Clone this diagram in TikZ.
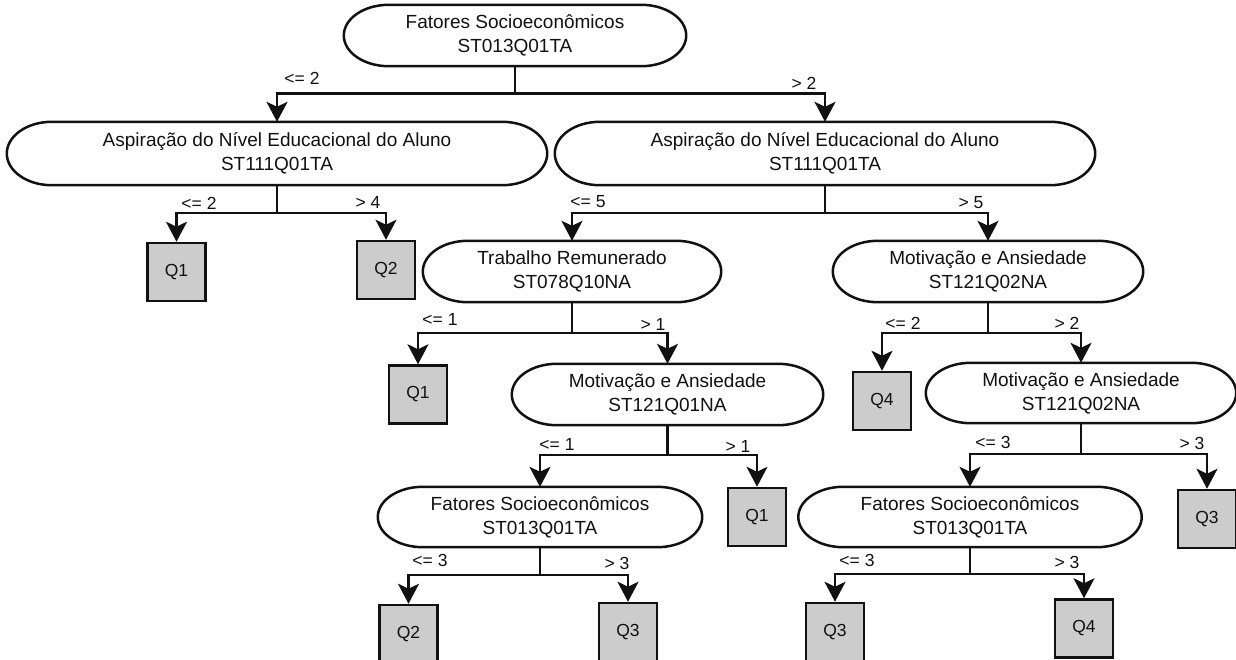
\documentclass[tikz,border=0pt]{standalone}
\usepackage{fontspec}
\setmainfont{Liberation Sans}
\usetikzlibrary{calc,arrows.meta}
\definecolor{leafgray}{HTML}{CCCCCC}
\definecolor{inkblack}{HTML}{111111}

% oval outline around a (borderless) decision node: straight top and
% bottom edges closed by two half-ellipses
\newcommand\ovaloutline[1]{%
  \draw[lw] let \p1=(#1.north west), \p2=(#1.south east),
      \n1={(\y1-\y2)/2} in
    (\x1+45pt,\y1) -- (\x2-45pt,\y1)
    arc[start angle=90, end angle=-90, x radius=45pt, y radius={\n1*1pt}]
    -- (\x1+45pt,\y2)
    arc[start angle=270, end angle=90, x radius=45pt, y radius={\n1*1pt}]
    -- cycle;}

\begin{document}
\begin{tikzpicture}[x=1pt, y=-1pt,
  lw/.style={line width=2.5pt, draw=inkblack},
  oval/.style={inner sep=0pt, align=center, text=inkblack,
    font=\fontsize{19}{24}\selectfont, minimum height=61pt},
  leaf/.style={lw, fill=leafgray, minimum width=58pt, minimum height=58pt,
    inner sep=0pt, text=inkblack, font=\fontsize{17.5}{20}\selectfont},
  conn/.style={lw, -{Stealth[length=20pt, width=21pt, inset=5pt]}},
  cond/.style={inner sep=0pt, text=inkblack, font=\fontsize{17.5}{20}\selectfont}]

\useasboundingbox (0,0) rectangle (1236,659);
\fill[white] (0,0) rectangle (1236,659);
\clip (0,0) rectangle (1236,659);

% decision nodes
\node[oval, minimum width=342pt] (root) at (515,35.5) {Fatores Socioeconômicos\\ST013Q01TA};
\node[oval, minimum width=540pt, minimum height=63pt] (aspL) at (277,153.5) {Aspiração do Nível Educacional do Aluno\\ST111Q01TA};
\node[oval, minimum width=540pt, minimum height=63pt] (aspR) at (825,153.5) {Aspiração do Nível Educacional do Aluno\\ST111Q01TA};
\node[oval, minimum width=298pt] (trab) at (572,271.5) {Trabalho Remunerado\\ST078Q10NA};
\node[oval, minimum width=310pt] (motA) at (988,271.5) {Motivação e Ansiedade\\ST121Q02NA};
\node[oval, minimum width=311pt] (motB) at (667.5,394.5) {Motivação e Ansiedade\\ST121Q01NA};
\node[oval, minimum width=310pt, minimum height=60pt] (motC) at (1081,393) {Motivação e Ansiedade\\ST121Q02NA};
\node[oval, minimum width=324pt, minimum height=60pt] (socA) at (540,517) {Fatores Socioeconômicos\\ST013Q01TA};
\node[oval, minimum width=343pt, minimum height=60pt] (socB) at (970,517) {Fatores Socioeconômicos\\ST013Q01TA};

\foreach \nm in {root,aspL,aspR,trab,motA,motB,motC,socA,socB}{\ovaloutline{\nm}}

% leaves
\node[leaf] (qa) at (176.5,272) {Q1};
\node[leaf] (qb) at (386,270) {Q2};
\node[leaf] (qc) at (418,394.5) {Q1};
\node[leaf] (qd) at (882,401) {Q4};
\node[leaf] (qe) at (757,517) {Q1};
\node[leaf] (qf) at (1207,519) {Q3};
\node[leaf] (qg) at (408.5,634) {Q2};
\node[leaf] (qh) at (628,632) {Q3};
\node[leaf] (qi) at (835,632) {Q3};
\node[leaf] (qj) at (1084,628.5) {Q4};

% connectors
\draw[conn] (root.south) -- ++(0,27.5) -| (aspL.north);
\draw[conn] (root.south) -- ++(0,27.5) -| (aspR.north);
\draw[conn] (aspL.south) -- ++(0,28) -| (qa.north);
\draw[conn] (aspL.south) -- ++(0,28) -| (qb.north);
\draw[conn] (aspR.south) -- ++(0,28) -| (trab.north);
\draw[conn] (aspR.south) -- ++(0,28) -| (motA.north);
\draw[conn] (trab.south) -- ++(0,31) -| (qc.north);
\draw[conn] (trab.south) -- ++(0,31) -| (motB.north);
\draw[conn] (motA.south) -- ++(0,31) -| (qd.north);
\draw[conn] (motA.south) -- ++(0,31) -| (motC.north);
\draw[conn] (motB.south) -- ++(0,30) -| (socA.north);
\draw[conn] (motB.south) -- ++(0,30) -| (qe.north);
\draw[conn] (motC.south) -- ++(0,31) -| (socB.north);
\draw[conn] (motC.south) -- ++(0,31) -| (qf.north);
\draw[conn] (socA.south) -- ++(0,28) -| (qg.north);
\draw[conn] (socA.south) -- ++(0,28) -| (qh.north);
\draw[conn] (socB.south) -- ++(0,27) -| (qi.north);
\draw[conn] (socB.south) -- ++(0,27) -| (qj.north);

% split conditions
\node[cond] (c1) at (302,78) {<= 2};
\node[cond] (c2) at (804,83) {> 2};
\node[cond] (c3) at (199,203) {<= 2};
\node[cond] (c4) at (368,202) {> 4};
\node[cond] (c5) at (588,202) {<= 5};
\node[cond] (c6) at (971,203) {> 5};
\node[cond] (c7) at (440,319) {<= 1};
\node[cond] (c8) at (653,324) {> 1};
\node[cond] (c9) at (903,323) {<= 2};
\node[cond] (c10) at (1067,323) {> 2};
\node[cond] (c11) at (557,444) {<= 1};
\node[cond] (c12) at (738,446) {> 1};
\node[cond] (c13) at (993,442) {<= 3};
\node[cond] (c14) at (1192,443) {> 3};
\node[cond] (c15) at (430,560) {<= 3};
\node[cond] (c16) at (617,563) {> 3};
\node[cond] (c17) at (857,560) {<= 3};
\node[cond] (c18) at (1067,562) {> 3};
\end{tikzpicture}
\end{document}
